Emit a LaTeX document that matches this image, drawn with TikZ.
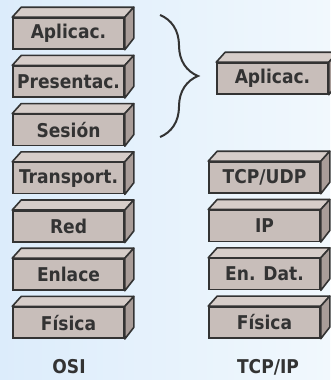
\documentclass[tikz,border=0pt]{standalone}
\usepackage{fontspec}
\setmainfont{DejaVu Sans Condensed}
\usetikzlibrary{decorations.pathreplacing}

\definecolor{fondoA}{HTML}{DCECFB}
\definecolor{fondoB}{HTML}{F1F8FD}
\definecolor{frente}{HTML}{C8BEBA}
\definecolor{tapa}{HTML}{D6CDC9}
\definecolor{lado}{HTML}{A99D99}
\definecolor{linea}{HTML}{333333}

\tikzset{
  capa/.style={draw=linea, fill=frente, line width=1.6pt, minimum width=111pt,
    minimum height=31pt, inner sep=0pt, text=linea,
    font=\bfseries\fontsize{19}{19}\selectfont},
  caja/.style={draw=linea, line width=1.6pt, line join=round},
  titulo/.style={text=linea, font=\bfseries\fontsize{19}{19}\selectfont}
}

% capa con tapa y lateral: nombre, x, y, texto
\newcommand{\ladrillo}[4]{%
  \node[capa] (#1) at (#2,#3) {#4};
  \draw[caja, fill=tapa] (#1.north west) -- ++(9pt,10pt)
    -- ([xshift=9pt,yshift=10pt]#1.north east) -- (#1.north east) -- cycle;
  \draw[caja, fill=lado] (#1.north east) -- ++(9pt,10pt) -- ++(0,-31pt)
    -- (#1.south east) -- cycle;
}

\begin{document}
\begin{tikzpicture}[x=1pt, y=-1pt]
  % fondo
  \fill[left color=fondoA, right color=fondoB] (0,0) rectangle (330,380);
  \useasboundingbox (0,0) rectangle (330,380);

  % modelo OSI
  \ladrillo{aplic}{68.5}{33.5}{Aplicac.}
  \ladrillo{pres}{68.5}{81.7}{Presentac.}
  \ladrillo{ses}{68.5}{129.9}{Sesión}
  \ladrillo{trans}{68.5}{178.1}{Transport.}
  \ladrillo{red}{68.5}{226.3}{Red}
  \ladrillo{enl}{68.5}{274.5}{Enlace}
  \ladrillo{fis}{68.5}{322.7}{Física}

  % modelo TCP/IP
  \ladrillo{tcpaplic}{272.5}{78.5}{Aplicac.}
  \ladrillo{tcpudp}{264.5}{177.5}{TCP/UDP}
  \ladrillo{ip}{264.5}{225.8}{IP}
  \ladrillo{endat}{264.5}{274.1}{En. Dat.}
  \ladrillo{tcpfis}{264.5}{322.4}{Física}

  % llave
  \coordinate (llaveA) at (160,15);
  \coordinate (llaveB) at (160,137);
  \draw[linea, line width=2pt,
    decorate, decoration={brace, amplitude=38pt, aspect=0.5}] (llaveA) -- (llaveB);

  % titulos
  \node[titulo] (osi) at (69,367) {OSI};
  \node[titulo] (tcpip) at (268,367) {TCP/IP};
\end{tikzpicture}
\end{document}
